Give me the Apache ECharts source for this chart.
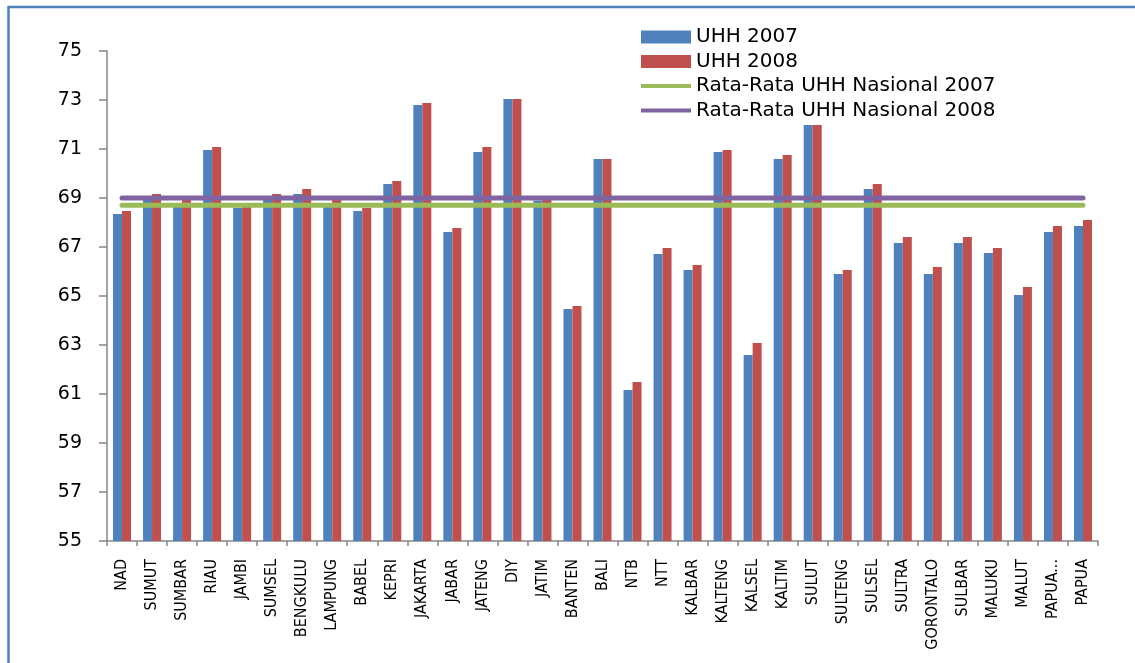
<!DOCTYPE html>
<html>
<head>
<meta charset="utf-8">
<script src="https://cdn.jsdelivr.net/npm/echarts@6/dist/echarts.min.js"></script>
<style>
  html, body { margin: 0; padding: 0; background: #ffffff; }
  #chart { width: 1135px; height: 663px; }
</style>
</head>
<body>
<div id="chart"></div>
<script>
// ---- data ----
var provinces = ["NAD","SUMUT","SUMBAR","RIAU","JAMBI","SUMSEL","BENGKULU","LAMPUNG","BABEL","KEPRI",
  "JAKARTA","JABAR","JATENG","DIY","JATIM","BANTEN","BALI","NTB","NTT","KALBAR","KALTENG","KALSEL",
  "KALTIM","SULUT","SULTENG","SULSEL","SULTRA","GORONTALO","SULBAR","MALUKU","MALUT","PAPUA...","PAPUA"];

var uhh2007 = [68.35, 68.95, 68.75, 70.96, 68.6, 68.95, 69.16, 68.7, 68.47, 69.57,
  72.8, 67.61, 70.88, 73.04, 68.9, 64.47, 70.59, 61.16, 66.71, 66.06, 70.88, 62.59,
  70.59, 71.98, 65.9, 69.37, 67.16, 65.9, 67.16, 66.76, 65.04, 67.61, 67.86];

var uhh2008 = [68.47, 69.16, 68.95, 71.08, 68.7, 69.16, 69.37, 68.95, 68.59, 69.69,
  72.88, 67.78, 71.08, 73.04, 68.95, 64.59, 70.59, 61.49, 66.96, 66.27, 70.96, 63.08,
  70.76, 71.98, 66.06, 69.57, 67.41, 66.18, 67.41, 66.96, 65.37, 67.86, 68.1];

var avgNas2007 = [68.7, 68.7, 68.7, 68.7, 68.7, 68.7, 68.7, 68.7, 68.7, 68.7, 68.7,
  68.7, 68.7, 68.7, 68.7, 68.7, 68.7, 68.7, 68.7, 68.7, 68.7, 68.7,
  68.7, 68.7, 68.7, 68.7, 68.7, 68.7, 68.7, 68.7, 68.7, 68.7, 68.7];

var avgNas2008 = [69.0, 69.0, 69.0, 69.0, 69.0, 69.0, 69.0, 69.0, 69.0, 69.0, 69.0,
  69.0, 69.0, 69.0, 69.0, 69.0, 69.0, 69.0, 69.0, 69.0, 69.0, 69.0,
  69.0, 69.0, 69.0, 69.0, 69.0, 69.0, 69.0, 69.0, 69.0, 69.0, 69.0];

var seriesNames = ["UHH 2007", "UHH 2008", "Rata-Rata UHH Nasional 2007", "Rata-Rata UHH Nasional 2008"];
var yMin = 55, yMax = 75, yStep = 2;

var chart = echarts.init(document.getElementById('chart'), null, { renderer: 'canvas' });

var lineIcon = 'path://M0,0 L100,0 L100,8 L0,8 Z';

var option = {
  backgroundColor: '#ffffff',
  animation: false,
  graphic: [{
    type: 'rect',
    shape: { x: 8.5, y: 7, width: 1200, height: 700 },
    style: { fill: 'none', stroke: '#4F81BD', lineWidth: 2.5 },
    silent: true
  }],
  legend: {
    orient: 'vertical',
    left: 641,
    top: 27,
    padding: 0,
    itemWidth: 50,
    itemHeight: 13,
    itemGap: 4.5,
    textStyle: { fontFamily: 'DejaVu Sans', fontSize: 20, lineHeight: 20, color: '#000000' },
    data: [
      { name: seriesNames[0], icon: 'rect' },
      { name: seriesNames[1], icon: 'rect' },
      { name: seriesNames[2], icon: lineIcon, itemStyle: { color: '#9BBB59' } },
      { name: seriesNames[3], icon: lineIcon, itemStyle: { color: '#8064A2' } }
    ]
  },
  grid: { left: 107, right: 37, top: 51, bottom: 122, containLabel: false },
  xAxis: {
    type: 'category',
    data: provinces,
    axisLine: { lineStyle: { color: '#868686', width: 1.5 } },
    axisTick: { show: true, length: 5, lineStyle: { color: '#868686', width: 1.5 } },
    axisLabel: {
      rotate: 90,
      interval: 0,
      margin: 18,
      fontFamily: "'Liberation Sans Narrow', 'DejaVu Sans Condensed', sans-serif",
      fontSize: 16,
      color: '#000000'
    },
    splitLine: { show: false }
  },
  yAxis: {
    type: 'value',
    min: yMin,
    max: yMax,
    interval: yStep,
    axisLine: { show: true, lineStyle: { color: '#868686', width: 1.5 } },
    axisTick: { show: true, length: 8, lineStyle: { color: '#868686', width: 1.5 } },
    axisLabel: { margin: 25, fontFamily: 'DejaVu Sans', fontSize: 19, color: '#000000' },
    splitLine: { show: false }
  },
  series: [
    {
      name: seriesNames[0], type: 'bar', data: uhh2007,
      barWidth: 9, barGap: '0%',
      itemStyle: { color: '#4F81BD' }
    },
    {
      name: seriesNames[1], type: 'bar', data: uhh2008,
      barWidth: 9, barGap: '0%',
      itemStyle: { color: '#C0504D' }
    },
    {
      name: seriesNames[2], type: 'line', data: avgNas2007,
      symbol: 'none',
      lineStyle: { color: '#9BBB59', width: 5, cap: 'round' },
      itemStyle: { color: '#9BBB59' },
      z: 5
    },
    {
      name: seriesNames[3], type: 'line', data: avgNas2008,
      symbol: 'none',
      lineStyle: { color: '#8064A2', width: 5, cap: 'round' },
      itemStyle: { color: '#8064A2' },
      z: 5
    }
  ]
};
chart.setOption(option);
</script>
</body>
</html>
